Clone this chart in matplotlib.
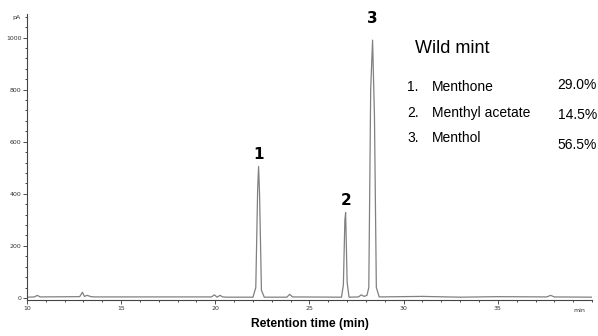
import matplotlib.pyplot as plt
from matplotlib.ticker import MultipleLocator

# chromatogram trace (min, pA)
time = [10.0, 10.4, 10.55, 10.7, 12.8, 12.95, 13.05, 13.2, 13.4, 13.6,
        19.8, 19.95, 20.1, 20.25, 20.4, 20.6, 22.0, 22.15, 22.25, 22.3,
        22.35, 22.45, 22.6, 23.8, 23.95, 24.1, 26.7, 26.8, 26.88, 26.92,
        27.0, 27.1, 27.6, 27.75, 27.9, 28.05, 28.15, 28.25, 28.35, 28.45,
        28.55, 28.7, 31.0, 33.0, 35.0, 37.6, 37.8, 38.0, 40.0]
signal = [3, 4, 10, 4, 5, 22, 6, 10, 5, 4,
          4, 12, 3, 10, 4, 3, 3, 40, 420, 505,
          400, 30, 3, 3, 14, 4, 3, 50, 300, 328,
          60, 3, 4, 12, 6, 10, 40, 800, 990, 700,
          40, 4, 6, 3, 5, 4, 10, 4, 3]

peak_ids = ["1", "2", "3"]
peak_times = [22.3, 26.92, 28.35]
peak_heights = [505, 328, 990]

title = "Wild mint"
compounds = ["Menthone", "Menthyl acetate", "Menthol"]
percents = ["29.0%", "14.5%", "56.5%"]

fig = plt.figure(figsize=(5.98, 3.36), dpi=100)
ax = fig.add_axes([0.045, 0.107, 0.945, 0.851])
ax.plot(time, signal, color="#808080", lw=0.9)

ax.set_xlim(10, 40)
ax.set_ylim(-8, 1090)
ax.xaxis.set_major_locator(MultipleLocator(5))
ax.yaxis.set_major_locator(MultipleLocator(200))
ax.yaxis.set_minor_locator(MultipleLocator(40))
ax.xaxis.set_minor_locator(MultipleLocator(1))
ax.set_xticks([10, 15, 20, 25, 30, 35])
ax.tick_params(labelsize=4.5, length=3, width=0.6, pad=1, colors="#333333")
ax.tick_params(which="minor", length=1.5, width=0.5)
for side in ["top", "right"]:
    ax.spines[side].set_visible(False)
for side in ["left", "bottom"]:
    ax.spines[side].set_color("#444444")
    ax.spines[side].set_linewidth(0.8)

ax.text(39.3, -40, "min", fontsize=4.5, color="#333333", ha="center", va="top")
fig.text(0.028, 0.948, "pA", fontsize=4.5, ha="center", va="center", color="#333333")

# label offsets above each peak, in points
label_offsets = [3, 3.5, 10]
for pid, t, h, off in zip(peak_ids, peak_times, peak_heights, label_offsets):
    ax.annotate(pid, (t, h), xytext=(0, off), textcoords="offset points",
                fontsize=11, fontweight="bold", ha="center", va="bottom")

ax.set_xlabel("Retention time (min)", fontsize=8.7, fontweight="bold",
              family="Liberation Sans", labelpad=5)

fig.text(0.694, 0.855, title, fontsize=13, family="Liberation Sans", va="center")
name_y = [0.741, 0.664, 0.589]
pct_y = [0.747, 0.658, 0.568]
for i, (name, pct) in enumerate(zip(compounds, percents)):
    fig.text(0.681, name_y[i], f"{i + 1}.", fontsize=10, family="Liberation Sans", va="center")
    fig.text(0.722, name_y[i], name, fontsize=10, family="Liberation Sans", va="center")
    fig.text(0.998, pct_y[i], pct, fontsize=10, family="Liberation Sans",
             va="center", ha="right")

fig.savefig("out.png", dpi=100)
